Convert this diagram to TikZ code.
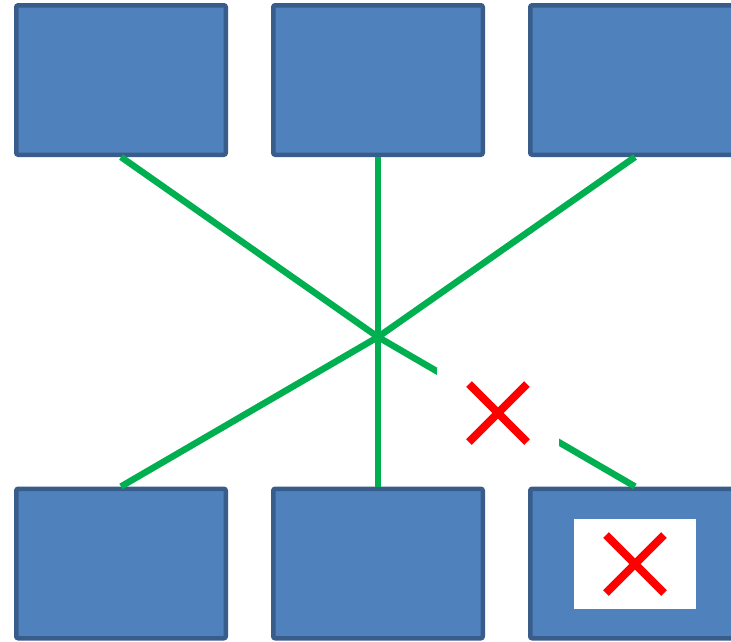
\documentclass[tikz,border=0pt]{standalone}
\usetikzlibrary{positioning}
\definecolor{boxFill}{HTML}{4F81BD}
\definecolor{boxLine}{HTML}{385D8A}
\definecolor{linkGreen}{HTML}{00B050}
\definecolor{crossRed}{HTML}{FF0000}
\begin{document}
\begin{tikzpicture}[x=1pt, y=-1pt,
  unit/.style={rounded corners=2pt, fill=boxFill, draw=boxLine, line width=4.5pt,
    minimum width=209.5pt, minimum height=149.5pt, inner sep=0pt},
  link/.style={line width=6.5pt, color=linkGreen},
  cross/.style={fill=white, minimum width=122pt, minimum height=90pt, inner sep=0pt,
    path picture={
      \draw[crossRed, line width=8pt]
        ([shift={(-29pt,-29pt)}]path picture bounding box.center) -- ++(58pt,58pt)
        ([shift={(-29pt,29pt)}]path picture bounding box.center) -- ++(58pt,-58pt);
    }}
]
  \useasboundingbox (0,0) rectangle (731,641);
  % Top row
  \node[unit] (t1) at (121,80) {};
  \node[unit] (t2) at (378,80) {};
  \node[unit] (t3) at (635,80) {};
  % Bottom row
  \node[unit] (b1) at (121,563.5) {};
  \node[unit] (b2) at (378,563.5) {};
  \node[unit] (b3) at (635,563.5) {};
  % Links through the hub
  \coordinate (hub) at (378,337);
  \foreach \n in {t1,t2,t3}
    \draw[link] (\n.south) -- (hub);
  \foreach \n in {b1,b2,b3}
    \draw[link] (hub) -- (\n.north);
  % Failed link and failed unit
  \node[cross] (cut) at (498,413) {};
  \node[cross] (fail) at (635,564) {};
\end{tikzpicture}
\end{document}
